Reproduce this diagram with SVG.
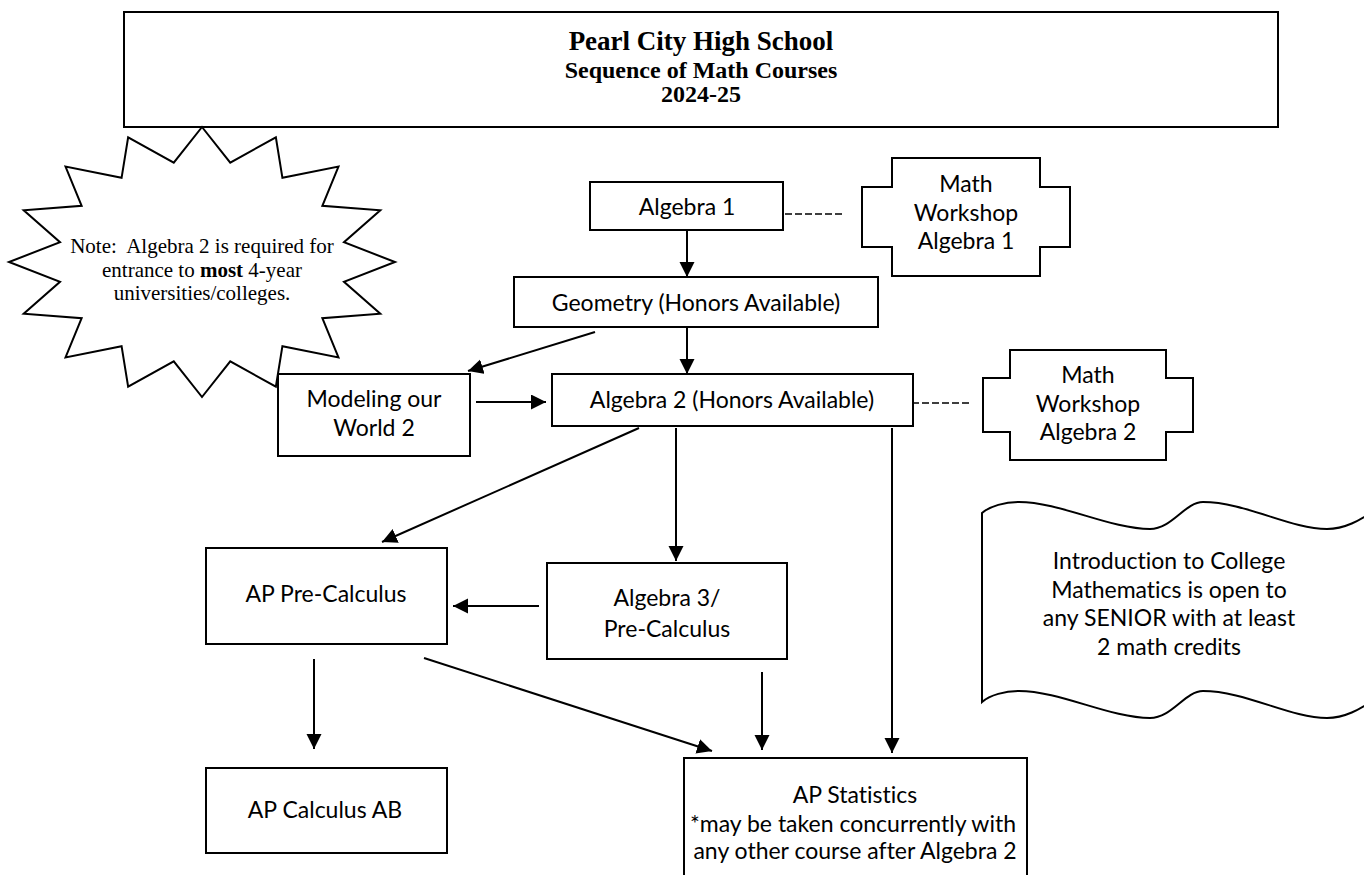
<svg xmlns="http://www.w3.org/2000/svg" width="1364" height="875" viewBox="0 0 1364 875">
<defs>
<style>
.box{fill:#fff;stroke:#000;stroke-width:2}
.ln{fill:none;stroke:#000;stroke-width:2}
.dash{fill:none;stroke:#000;stroke-width:1.5;stroke-dasharray:7 3}
.t{font-family:Lato,"Open Sans",sans-serif;font-size:23px;fill:#000;text-anchor:middle;font-variant-ligatures:none;font-feature-settings:"liga" 0,"dlig" 0}
.ttl{font-family:"Liberation Serif","Times New Roman",serif;font-weight:bold;fill:#000;text-anchor:middle}
.note{font-family:"Liberation Serif","Times New Roman",serif;font-size:21px;fill:#000;text-anchor:middle}
</style>
<marker id="ah" markerUnits="userSpaceOnUse" markerWidth="16" markerHeight="16" refX="15" refY="7.5" orient="auto">
<path d="M0,0 L15,7.5 L0,15 Z" fill="#000"/>
</marker>
</defs>
<rect width="1364" height="875" fill="#fff"/>

<g id="title">
<rect class="box" x="124" y="12" width="1154" height="115"/>
<text class="ttl" x="701" y="50" font-size="27">Pearl City High School</text>
<text class="ttl" x="701" y="78" font-size="24">Sequence of Math Courses</text>
<text class="ttl" x="701" y="102" font-size="24">2024-25</text>
</g>

<g id="note">
<polygon class="box" stroke-width="1.5" points="202,127 230.24,162.7 275.86,137.28 282.42,177.81 338.47,166.54 322.36,205.75 380.31,210.34 343.97,242.25 395,262 343.97,281.75 380.31,313.66 322.36,318.25 338.47,357.46 282.42,346.19 275.86,386.72 230.24,361.3 202,397 173.76,361.3 128.14,386.72 121.58,346.19 65.53,357.46 81.64,318.25 23.69,313.66 60.03,281.75 9,262 60.03,242.25 23.69,210.34 81.64,205.75 65.53,166.54 121.58,177.81 128.14,137.28 173.76,162.7"/>
<text class="note" x="202" y="253" xml:space="preserve">Note:  Algebra 2 is required for</text>
<text class="note" x="202" y="277">entrance to <tspan font-weight="bold">most</tspan> 4-year</text>
<text class="note" x="202" y="300">universities/colleges.</text>
</g>

<g id="connectors">
<line class="ln" x1="687" y1="230" x2="687" y2="277" marker-end="url(#ah)"/>
<line class="dash" x1="785" y1="214" x2="842" y2="214"/>
<line class="ln" x1="595" y1="332" x2="468" y2="371" marker-end="url(#ah)"/>
<line class="ln" x1="687" y1="327" x2="687" y2="374" marker-end="url(#ah)"/>
<line class="ln" x1="476" y1="402" x2="546" y2="402" marker-end="url(#ah)"/>
<line class="dash" x1="912" y1="403" x2="970" y2="403"/>
<line class="ln" x1="639" y1="428" x2="382" y2="542" marker-end="url(#ah)"/>
<line class="ln" x1="676" y1="428" x2="676" y2="561" marker-end="url(#ah)"/>
<line class="ln" x1="892" y1="428" x2="892" y2="753" marker-end="url(#ah)"/>
<line class="ln" x1="539" y1="606" x2="453" y2="606" marker-end="url(#ah)"/>
<line class="ln" x1="314" y1="659" x2="314" y2="749" marker-end="url(#ah)"/>
<line class="ln" x1="424" y1="658" x2="712" y2="751" marker-end="url(#ah)"/>
<line class="ln" x1="762" y1="672" x2="762" y2="750" marker-end="url(#ah)"/>
</g>

<g id="algebra1">
<rect class="box" x="590" y="182" width="193" height="48"/>
<text class="t" x="687" y="215">Algebra 1</text>
</g>

<g id="workshop1">
<path class="box" d="M892,158 H1040 V187 H1070 V247 H1040 V276 H892 V247 H862 V187 H892 Z"/>
<text class="t" x="966" y="192">Math</text>
<text class="t" x="966" y="221">Workshop</text>
<text class="t" x="966" y="249">Algebra 1</text>
</g>

<g id="geometry">
<rect class="box" x="514" y="277" width="364" height="50"/>
<text class="t" x="696" y="311">Geometry (Honors Available)</text>
</g>

<g id="modeling">
<rect class="box" x="278" y="374" width="192" height="82"/>
<text class="t" x="374" y="407">Modeling our</text>
<text class="t" x="374" y="436">World 2</text>
</g>

<g id="algebra2">
<rect class="box" x="552" y="374" width="361" height="52"/>
<text class="t" x="732" y="408">Algebra 2 (Honors Available)</text>
</g>

<g id="workshop2">
<path class="box" d="M1010,350 H1166 V378 H1193 V432 H1166 V460 H1010 V432 H983 V378 H1010 Z"/>
<text class="t" x="1088" y="383">Math</text>
<text class="t" x="1088" y="412">Workshop</text>
<text class="t" x="1088" y="440">Algebra 2</text>
</g>

<g id="college">
<path class="box" d="M982,513 C990,506 1005,502 1019,502 C1060,502 1110,529 1150,529 C1172,529 1185,502 1203,502 C1245,502 1290,529 1327,529 C1345,529 1360,520 1372,512 V701 C1360,709 1345,718 1327,718 C1290,718 1245,691 1203,691 C1185,691 1172,718 1150,718 C1110,718 1060,691 1019,691 C1005,691 990,695 982,702 Z"/>
<text class="t" x="1169" y="569">Introduction to College</text>
<text class="t" x="1169" y="598">Mathematics is open to</text>
<text class="t" x="1169" y="626">any SENIOR with at least</text>
<text class="t" x="1169" y="655">2 math credits</text>
</g>

<g id="apprecalc">
<rect class="box" x="206" y="548" width="241" height="96"/>
<text class="t" x="326" y="602">AP Pre-Calculus</text>
</g>

<g id="algebra3">
<rect class="box" x="547" y="563" width="240" height="96"/>
<text class="t" x="667" y="606">Algebra 3/</text>
<text class="t" x="667" y="637">Pre-Calculus</text>
</g>

<g id="calcab">
<rect class="box" x="206" y="768" width="241" height="85"/>
<text class="t" x="325" y="818">AP Calculus AB</text>
</g>

<g id="stats">
<rect class="box" x="684" y="758" width="343" height="130"/>
<text class="t" x="855" y="803">AP Statistics</text>
<text class="t" x="853" y="832">*may be taken concurrently with</text>
<text class="t" x="855" y="859">any other course after Algebra 2</text>
</g>
</svg>
